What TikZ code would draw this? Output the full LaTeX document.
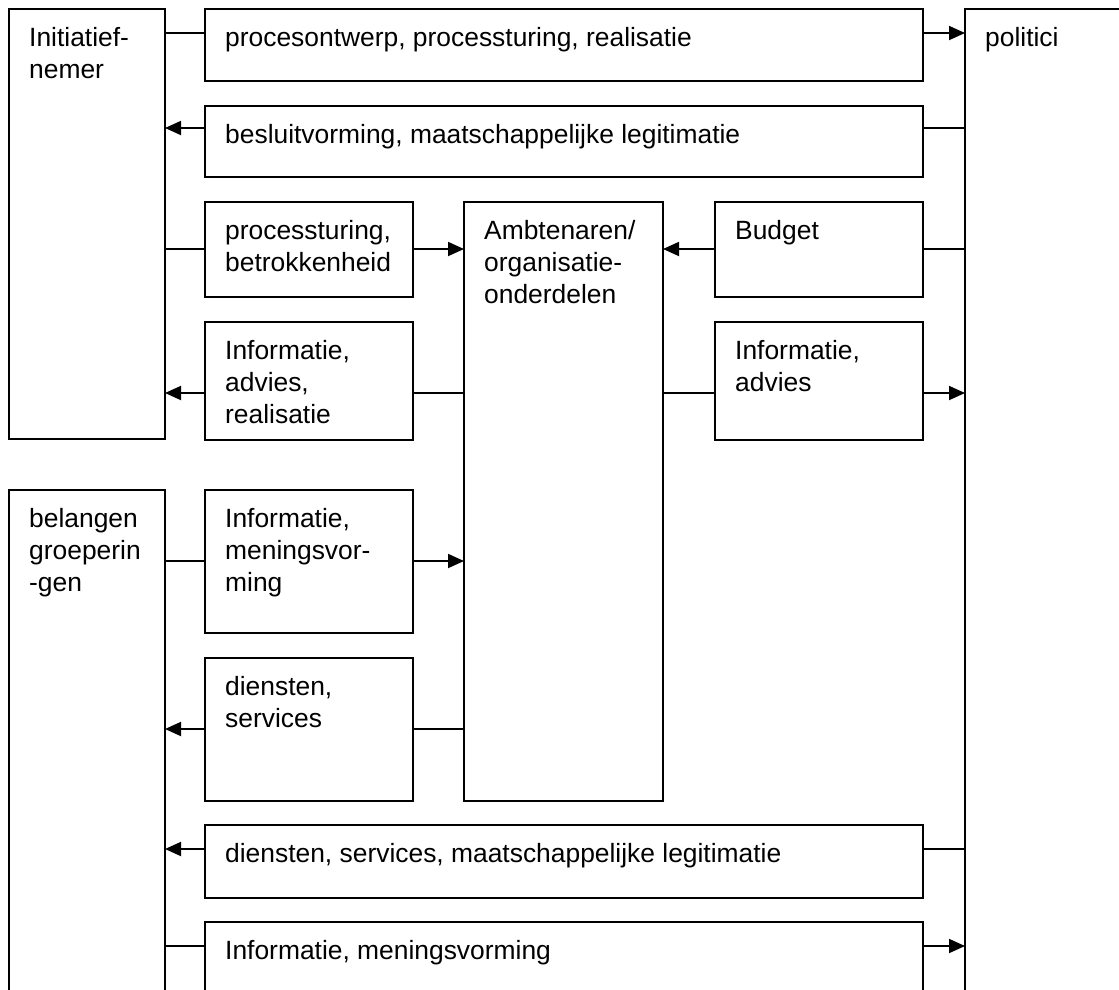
\documentclass[tikz,border=0pt]{standalone}
\usepackage{fontspec}
\setmainfont{Liberation Sans}
\usetikzlibrary{arrows.meta}
\newcommand{\lines}[1]{\begin{tabular}[t]{@{}l@{}}#1\end{tabular}}
\begin{document}
\begin{tikzpicture}[x=1pt,y=-1pt,
  box/.style={draw, line width=1.8pt, anchor=north west, inner sep=0pt, outer sep=0pt},
  lbl/.style={anchor=base west, inner sep=0pt, font=\fontsize{26.4}{32}\selectfont},
  link/.style={line width=1.8pt},
  arr/.style={line width=1.8pt, -{Triangle[length=16pt,width=14pt]}}]
\clip (0,0) rectangle (1119,989);

% actors
\node[box, minimum width=156pt, minimum height=430pt] (ini) at (9,9) {};
\node[box, minimum width=156pt, minimum height=600pt] (bel) at (9,490) {};
\node[box, minimum width=200pt, minimum height=1000pt] (pol) at (965,9) {};
\node[box, minimum width=199pt, minimum height=599pt] (amb) at (464,202) {};

% flows
\node[box, minimum width=718pt, minimum height=72pt] (p1) at (205,9) {};
\node[box, minimum width=718pt, minimum height=71pt] (p2) at (205,106) {};
\node[box, minimum width=208pt, minimum height=95pt] (p3) at (205,202) {};
\node[box, minimum width=208pt, minimum height=118pt] (p4) at (205,322) {};
\node[box, minimum width=208pt, minimum height=95pt] (bud) at (715,202) {};
\node[box, minimum width=208pt, minimum height=118pt] (inf) at (715,322) {};
\node[box, minimum width=208pt, minimum height=143pt] (p5) at (205,490) {};
\node[box, minimum width=208pt, minimum height=143pt] (p6) at (205,658) {};
\node[box, minimum width=718pt, minimum height=73pt] (p7) at (205,825) {};
\node[box, minimum width=718pt, minimum height=150pt] (p8) at (205,922) {};

% labels
\node[lbl] (ini-t) at ([shift={(20pt,-37pt)}]ini.north west) {\lines{Initiatief-\\nemer}};
\node[lbl] (bel-t) at ([shift={(20pt,-37pt)}]bel.north west) {\lines{belangen\\groeperin\\-gen}};
\node[lbl] (pol-t) at ([shift={(20pt,-37pt)}]pol.north west) {politici};
\node[lbl] (amb-t) at ([shift={(20pt,-37pt)}]amb.north west) {\lines{Ambtenaren/\\organisatie-\\onderdelen}};
\node[lbl] (p1-t) at ([shift={(20pt,-37pt)}]p1.north west) {procesontwerp, processturing, realisatie};
\node[lbl] (p2-t) at ([shift={(20pt,-37pt)}]p2.north west) {besluitvorming, maatschappelijke legitimatie};
\node[lbl] (p3-t) at ([shift={(20pt,-37pt)}]p3.north west) {\lines{processturing,\\betrokkenheid}};
\node[lbl] (p4-t) at ([shift={(20pt,-37pt)}]p4.north west) {\lines{Informatie,\\advies,\\realisatie}};
\node[lbl] (bud-t) at ([shift={(20pt,-37pt)}]bud.north west) {Budget};
\node[lbl] (inf-t) at ([shift={(20pt,-37pt)}]inf.north west) {\lines{Informatie,\\advies}};
\node[lbl] (p5-t) at ([shift={(20pt,-37pt)}]p5.north west) {\lines{Informatie,\\meningsvor-\\ming}};
\node[lbl] (p6-t) at ([shift={(20pt,-37pt)}]p6.north west) {\lines{diensten,\\services}};
\node[lbl] (p7-t) at ([shift={(20pt,-37pt)}]p7.north west) {diensten, services, maatschappelijke legitimatie};
\node[lbl] (p8-t) at ([shift={(20pt,-37pt)}]p8.north west) {Informatie, meningsvorming};

% connector levels
\coordinate (r1) at (0,33);
\coordinate (r2) at (0,128);
\coordinate (r3) at (0,249);
\coordinate (r4) at (0,393);
\coordinate (r5) at (0,561);
\coordinate (r6) at (0,729);
\coordinate (r7) at (0,849);
\coordinate (r8) at (0,946);

% connectors
\draw[link] (ini.east |- r1) -- (p1.west |- r1);
\draw[arr]  (p1.east |- r1) -- (pol.west |- r1);
\draw[link] (pol.west |- r2) -- (p2.east |- r2);
\draw[arr]  (p2.west |- r2) -- (ini.east |- r2);
\draw[link] (ini.east |- r3) -- (p3.west |- r3);
\draw[arr]  (p3.east |- r3) -- (amb.west |- r3);
\draw[link] (pol.west |- r3) -- (bud.east |- r3);
\draw[arr]  (bud.west |- r3) -- (amb.east |- r3);
\draw[link] (amb.west |- r4) -- (p4.east |- r4);
\draw[arr]  (p4.west |- r4) -- (ini.east |- r4);
\draw[link] (amb.east |- r4) -- (inf.west |- r4);
\draw[arr]  (inf.east |- r4) -- (pol.west |- r4);
\draw[link] (bel.east |- r5) -- (p5.west |- r5);
\draw[arr]  (p5.east |- r5) -- (amb.west |- r5);
\draw[link] (amb.west |- r6) -- (p6.east |- r6);
\draw[arr]  (p6.west |- r6) -- (bel.east |- r6);
\draw[link] (pol.west |- r7) -- (p7.east |- r7);
\draw[arr]  (p7.west |- r7) -- (bel.east |- r7);
\draw[link] (bel.east |- r8) -- (p8.west |- r8);
\draw[arr]  (p8.east |- r8) -- (pol.west |- r8);
\end{tikzpicture}
\end{document}
